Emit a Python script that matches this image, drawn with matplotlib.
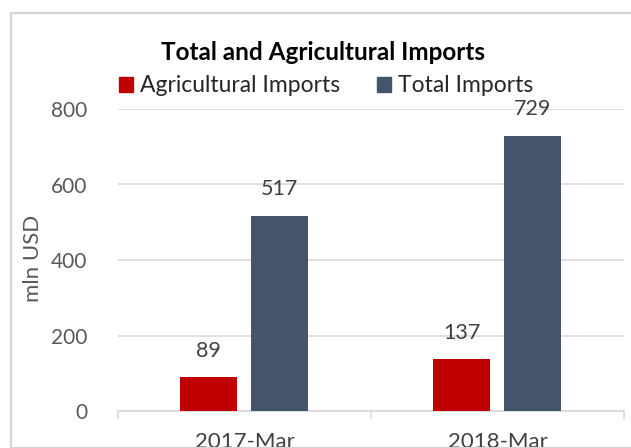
import numpy as np
import matplotlib
matplotlib.use("Agg")
import matplotlib.pyplot as plt
from matplotlib.patches import Rectangle, Patch

categories = ["2017-Mar", "2018-Mar"]
agri = [89, 137]
total = [517, 729]
yticks = [0, 200, 400, 600, 800]

RED = "#C00000"
NAVY = "#44546A"
TXT = "#595959"
GRID = "#D9D9D9"

plt.rcParams["font.family"] = ["Lato", "DejaVu Sans"]

W, H = 631, 448
fig = plt.figure(figsize=(W / 100, H / 100), dpi=100)
ax = fig.add_axes([118 / W, 1 - 411 / H, (624 - 118) / W, 302 / H])

x = np.arange(len(categories))
bw = 0.225
b1 = ax.bar(x - 0.142, agri, bw, color=RED, zorder=3)
b2 = ax.bar(x + 0.137, total, bw, color=NAVY, zorder=3)

for bars in (b1, b2):
    for r in bars:
        ax.annotate(f"{r.get_height():.0f}", (r.get_x() + r.get_width() / 2, r.get_height()),
                    xytext=(0, 19), textcoords="offset points", ha="center", va="center",
                    fontsize=15.5, color="#404040")

ax.set_xlim(-0.5, 1.5)
ax.set_ylim(0, 800)
ax.set_yticks(yticks)
ax.yaxis.grid(True, color=GRID, lw=1.2, zorder=0)
ax.tick_params(axis="y", length=0, pad=22, labelsize=15, labelcolor=TXT)
ax.set_xticks(x)
ax.set_xticklabels(categories)
ax.tick_params(axis="x", length=0, pad=15, labelsize=16, labelcolor="#404040")
# category boundary ticks
ax.set_xticks([-0.5, 0.5, 1.5], minor=True)
ax.tick_params(axis="x", which="minor", length=6, color=GRID, width=1.2)
for s in ("top", "right", "left"):
    ax.spines[s].set_visible(False)
ax.spines["bottom"].set_color(GRID)
ax.spines["bottom"].set_linewidth(1.2)

fig.text(33 / W, 1 - 258 / H, "mln USD", rotation=90, ha="center", va="center",
         fontsize=16, color=TXT)

fig.text(323 / W, 1 - 52 / H, "Total and Agricultural Imports", ha="center", va="center",
         fontsize=17.5, fontweight="bold", color="black")

handles = [Patch(color=RED, label="Agricultural Imports"),
           Patch(color=NAVY, label="Total Imports")]
fig.legend(handles=handles, loc="center", bbox_to_anchor=(326 / W, 1 - 86 / H), ncol=2,
           frameon=False, fontsize=16.5, handlelength=0.62, handleheight=0.62,
           handletextpad=0.3, columnspacing=1.6, labelcolor="#262626",
           borderpad=0, borderaxespad=0)

fig.patches.append(Rectangle((10.5 / W, 0), 1.2, 1 - 13.5 / H, transform=fig.transFigure,
                             fill=False, ec="#D0D4D8", lw=1.5))

fig.savefig("out.png", dpi=100)
